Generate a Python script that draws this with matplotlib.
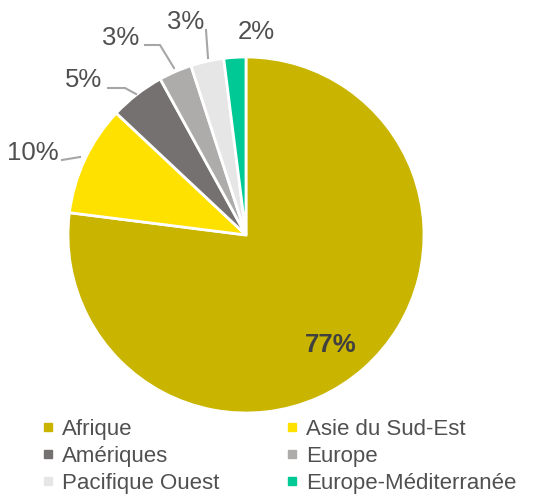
import numpy as np
import matplotlib.pyplot as plt
from matplotlib.lines import Line2D

plt.rcParams['font.family'] = ['Liberation Sans', 'DejaVu Sans']

regions = ["Afrique", "Asie du Sud-Est", "Amériques", "Europe",
           "Pacifique Ouest", "Europe-Méditerranée"]
shares = [77, 10, 5, 3, 3, 2]
colors = ["#C9B500", "#FFE100", "#767171", "#AEABAB", "#E7E6E6", "#00C995"]

W, H = 554, 497
fig = plt.figure(figsize=(W / 100, H / 100), dpi=100)
ax = fig.add_axes([0, 0, 1, 1])

cx, cy, r = 246, H - 235, 178
wedges, _ = ax.pie(shares, colors=colors, startangle=90, counterclock=False,
                   center=(cx, cy), radius=r, frame=True,
                   wedgeprops=dict(edgecolor="white", linewidth=2))
ax.set_xlim(0, W)
ax.set_ylim(0, H)
ax.set_aspect("equal")
ax.axis("off")

label_col = "#505050"
line_col = "#A6A6A6"

# big slice: label inside
ax.text(331, H - 345, f"{shares[0]}%", ha="center", va="center",
        fontsize=18.5, fontweight="bold", color="#404040")

# outside labels: text position, leader path (pixel coords, y from top)
outside = {
    1: ((33, 153), [(62, 160), (80, 157)]),
    2: ((84, 80), [(108, 88), (125, 88), (136, 94)]),
    3: ((121, 38), [(145, 45), (160, 45), (174, 68)]),
    4: ((186, 22), [(206, 30), (208, 58)]),
    5: ((256, 32), []),
}
for i, ((tx, ty), path) in outside.items():
    ax.text(tx, H - ty, f"{shares[i]}%", ha="center", va="center",
            fontsize=18.5, color=label_col)
    if path:
        xs = [p[0] for p in path]
        ys = [H - p[1] for p in path]
        ax.plot(xs, ys, color=line_col, lw=1.5)

# legend is filled row by row in the reference
order = [0, 2, 4, 1, 3, 5]
handles = [Line2D([], [], marker="s", linestyle="none", markersize=6,
                  markerfacecolor=colors[k], markeredgecolor=colors[k])
           for k in order]
ax.legend(handles, [regions[k] for k in order], ncol=2, loc="lower left",
          bbox_to_anchor=(21 / W, -17 / H), frameon=False, fontsize=16,
          handlelength=0.6, handletextpad=0.35, labelspacing=0.27,
          columnspacing=2.95, labelcolor=label_col)

fig.savefig("out.png", dpi=100)
